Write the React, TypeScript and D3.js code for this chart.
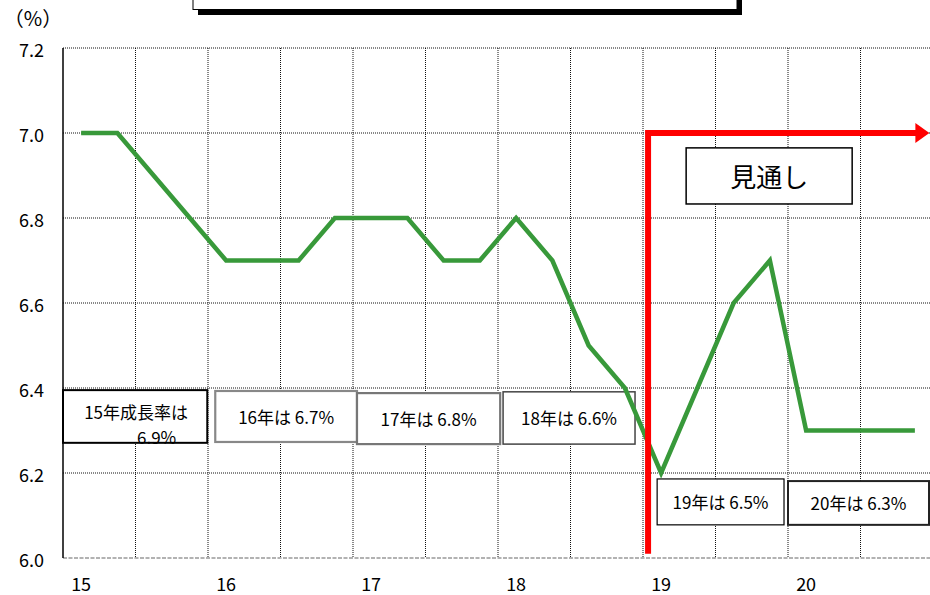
import React from "react";
import * as d3 from "d3";

// Quarterly real GDP growth (% y/y), 2015 Q1 – 2020 Q4
const years = ["15", "16", "17", "18", "19", "20"];
const growth = [
  7.0, 7.0, 6.9, 6.8,
  6.7, 6.7, 6.7, 6.8,
  6.8, 6.8, 6.7, 6.7,
  6.8, 6.7, 6.5, 6.4,
  6.2, 6.4, 6.6, 6.7,
  6.3, 6.3, 6.3, 6.3,
];
const yTicks = [6.0, 6.2, 6.4, 6.6, 6.8, 7.0, 7.2];
const annualNotes = [
  ["15年成長率は", "6.9%"],
  ["16年は 6.7%"],
  ["17年は 6.8%"],
  ["18年は 6.6%"],
  ["19年は 6.5%"],
  ["20年は 6.3%"],
];
const outlookLabel = "見通し";

const W = 930;
const H = 595;
const FONT = "'Noto Sans CJK JP', 'Noto Sans', sans-serif";

// Box placement in (quarter index, value) coordinates
const noteBoxes = [
  { x0: -0.5, x1: 3.48, v0: 6.395, v1: 6.271, stroke: "#000", sw: 2 },
  { x0: 3.7, x1: 7.61, v0: 6.393, v1: 6.273, stroke: "#888", sw: 2.2 },
  { x0: 7.61, x1: 11.56, v0: 6.388, v1: 6.268, stroke: "#777", sw: 2.2 },
  { x0: 11.64, x1: 15.28, v0: 6.391, v1: 6.268, stroke: "#444", sw: 1.5 },
  { x0: 15.89, x1: 19.39, v0: 6.186, v1: 6.078, stroke: "#000", sw: 1.2 },
  { x0: 19.5, x1: 23.39, v0: 6.181, v1: 6.078, stroke: "#222", sw: 2 },
];

export default function App() {
  const x = d3.scaleLinear().domain([-0.5, 23.5]).range([63, 933]);
  const y = d3.scaleLinear().domain([6.0, 7.2]).range([558, 48]);

  const line = d3
    .line<number>()
    .x((_, i) => x(i))
    .y((d) => y(d));

  const gridX = d3.range(1.5, 23, 2);
  const redX = x(15.64);
  const redTop = y(7.0);
  const arrowTip = x(23.4);

  return (
    <div style={{ position: "absolute", left: 0, top: 0 }}>
      <svg width={W} height={H} style={{ display: "block", background: "#fff" }} fontFamily={FONT}>
        {/* title box, mostly above the frame */}
        <rect x={198} y={-20} width={544} height={35} fill="#000" />
        <rect x={193} y={-20} width={544} height={29.5} fill="#fff" stroke="#000" strokeWidth={1} />

        {/* grid */}
        {yTicks.slice(1).map((t) => (
          <line key={t} x1={63} x2={W} y1={y(t)} y2={y(t)} stroke="#111" strokeWidth={1} strokeDasharray="1 1" />
        ))}
        {gridX.map((g) => (
          <line key={g} x1={x(g)} x2={x(g)} y1={y(7.2)} y2={y(6.0)} stroke="#111" strokeWidth={1} strokeDasharray="1 1" />
        ))}
        <line x1={63} x2={W} y1={y(6.0)} y2={y(6.0)} stroke="#999" strokeWidth={1.5} strokeDasharray="4 1.5" />
        <line x1={63} x2={63} y1={y(7.2)} y2={y(6.0)} stroke="#000" strokeWidth={1.5} />

        {/* y axis labels */}
        <text x={33} y={17} fontSize={20} textAnchor="middle" dominantBaseline="central" fill="#000">（%）</text>
        {yTicks.map((t) => (
          <text key={t} x={44} y={y(t) + 1} fontSize={18} textAnchor="end" dominantBaseline="central" fill="#000">
            {t.toFixed(1)}
          </text>
        ))}

        {/* x axis labels */}
        {years.map((yr, k) => (
          <text key={yr} x={x(k * 4)} y={591} fontSize={18} textAnchor="middle" fill="#000">
            {yr}
          </text>
        ))}

        {/* annual growth notes */}
        {noteBoxes.map((b, k) => {
          const bx = x(b.x0);
          const bw = x(b.x1) - x(b.x0);
          const by = y(b.v0);
          const bh = y(b.v1) - y(b.v0);
          const lines = annualNotes[k];
          return (
            <g key={k}>
              <rect x={bx} y={by} width={bw} height={bh} fill="#fff" stroke={b.stroke} strokeWidth={b.sw} />
              {lines.length === 1 ? (
                <text x={bx + bw / 2} y={by + bh / 2} fontSize={17} textAnchor="middle" dominantBaseline="central" fill="#000">
                  {lines[0]}
                </text>
              ) : (
                <>
                  <text x={bx + bw / 2 + 1} y={by + 21} fontSize={17} textAnchor="middle" dominantBaseline="central" fill="#000">
                    {lines[0]}
                  </text>
                  <text x={bx + 74} y={by + 46} fontSize={17} textAnchor="start" dominantBaseline="central" fill="#000">
                    {lines[1]}
                  </text>
                </>
              )}
            </g>
          );
        })}

        {/* growth line */}
        <path d={line(growth) ?? ""} fill="none" stroke="#38993a" strokeWidth={4.5} strokeLinejoin="miter" />

        {/* outlook marker */}
        <path
          d={`M${redX},${y(6.01)} V${redTop} H${arrowTip - 12}`}
          fill="none"
          stroke="#ff0000"
          strokeWidth={6}
          strokeLinejoin="miter"
        />
        <path d={`M${arrowTip - 14},${redTop - 10} L${arrowTip},${redTop} L${arrowTip - 14},${redTop + 10} Z`} fill="#ff0000" />

        {/* outlook label */}
        <rect x={x(16.69)} y={y(6.965)} width={x(21.27) - x(16.69)} height={y(6.833) - y(6.965)} fill="#fff" stroke="#000" strokeWidth={1.5} />
        <text x={(x(16.69) + x(21.27)) / 2} y={(y(6.965) + y(6.833)) / 2} fontSize={26} textAnchor="middle" dominantBaseline="central" fill="#000">
          {outlookLabel}
        </text>
      </svg>
    </div>
  );
}
